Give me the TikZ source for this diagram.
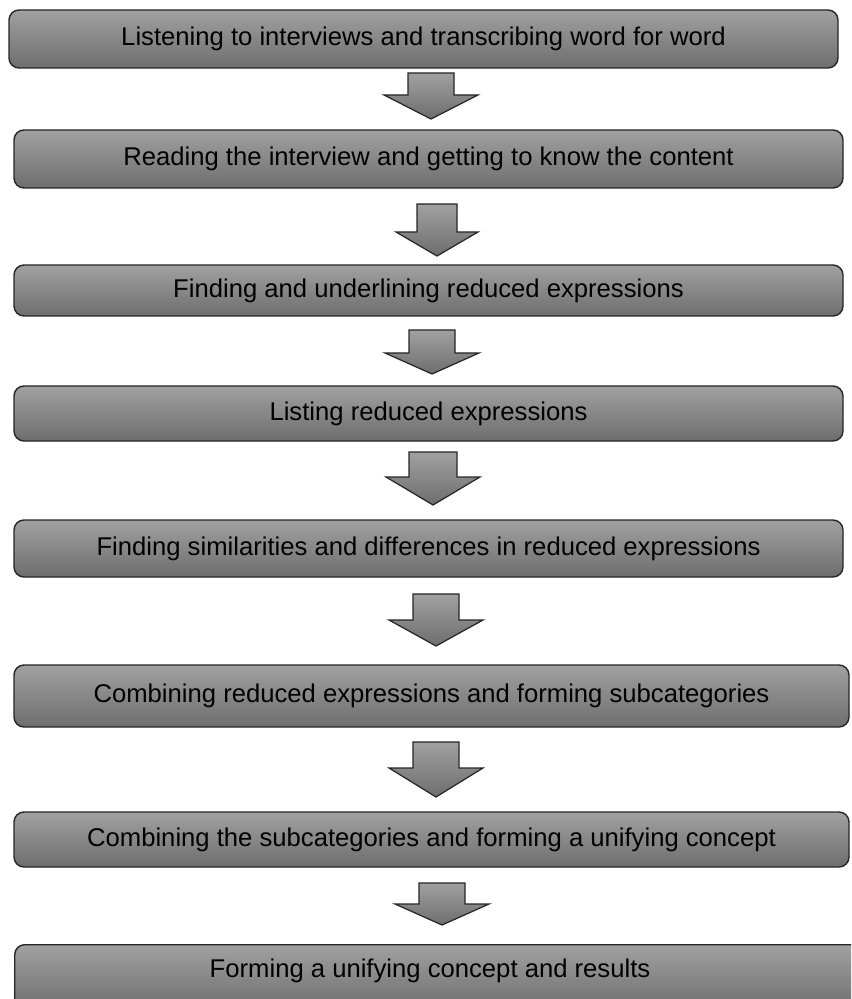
\documentclass[tikz,border=0pt]{standalone}
\usepackage{fontspec}
\setmainfont{Liberation Sans}
\tikzset{
  stepbox/.style={draw=black!85, line width=0.8pt, rounded corners=0.2cm,
    top color=black!37, bottom color=black!57, inner sep=0pt,
    font=\fontsize{14.6}{17}\selectfont, text=black},
  blockarr/.style={draw=black!85, line width=0.7pt, top color=black!37, bottom color=black!57, line join=miter}
}
\newcommand{\downblock}[6]{% cx, shaft half, head half, top, base, tip
  \path[blockarr] (#1-#2,#4) -- (#1+#2,#4) -- (#1+#2,#5) -- (#1+#3,#5) -- (#1,#6) -- (#1-#3,#5) -- (#1-#2,#5) -- cycle;}
\newcommand{\stepnode}[6]{% name, x1, x2, y1, y2, text
  \node[stepbox, minimum width={(#3-#2)*0.02cm}, minimum height={(#5-#4)*0.02cm}] (#1) at ({(#2+#3)/2},{(#4+#5)/2}) {#6};}
\begin{document}
\begin{tikzpicture}[x=0.02cm, y=-0.02cm]
\useasboundingbox (0,0) rectangle (851,999);
\clip (0,0) rectangle (851,999);
\fill[white] (0,0) rectangle (851,999);
\stepnode{b1}{9}{838}{10}{68}{Listening to interviews and transcribing word for word}
\stepnode{b2}{14}{843}{130}{188}{Reading the interview and getting to know the content}
\stepnode{b3}{14}{843}{265}{316}{Finding and underlining reduced expressions}
\stepnode{b4}{14}{843}{386}{441}{Listing reduced expressions}
\stepnode{b5}{14}{843}{520}{577}{Finding similarities and differences in reduced expressions}
\stepnode{b6}{14}{849}{665}{727}{Combining reduced expressions and forming subcategories}
\stepnode{b7}{14}{849}{812}{867}{Combining the subcategories and forming a unifying concept}
\node[stepbox, minimum width={(860-14)*0.02cm}, minimum height={(1010-944)*0.02cm}, anchor=north west] (b8) at (14,944) {};
\node[font=\fontsize{14.6}{17}\selectfont] (t8) at (430,971) {Forming a unifying concept and results};
\downblock{431}{23}{47}{73}{95}{119}
\downblock{437}{20}{41}{204}{232}{256}
\downblock{432}{23}{47}{330}{353}{374}
\downblock{433}{24}{47}{452}{477}{505}
\downblock{436}{23}{47}{594}{620}{646}
\downblock{436}{23}{47}{742}{768}{797}
\downblock{442}{23}{47}{883}{904}{925}
\end{tikzpicture}
\end{document}
